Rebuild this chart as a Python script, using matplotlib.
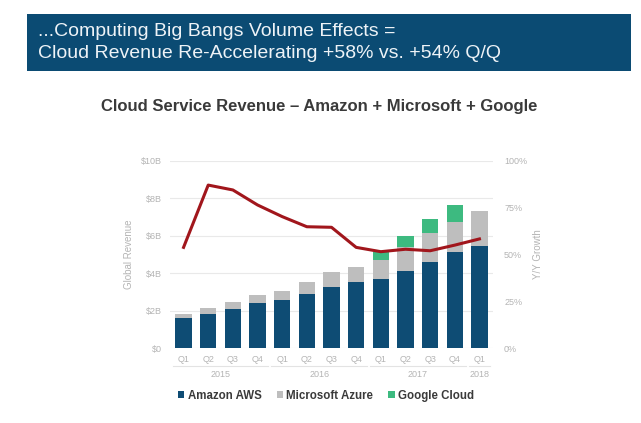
import numpy as np
import matplotlib
matplotlib.use('Agg')
import matplotlib.pyplot as plt
from matplotlib.patches import Rectangle
from matplotlib.transforms import blended_transform_factory

# quarterly revenue in $B
quarters = ['Q1', 'Q2', 'Q3', 'Q4', 'Q1', 'Q2', 'Q3', 'Q4',
            'Q1', 'Q2', 'Q3', 'Q4', 'Q1']
years = ['2015', '2016', '2017', '2018']
year_quarters = [4, 4, 4, 1]

aws = [1.60, 1.85, 2.10, 2.43, 2.57, 2.90, 3.25, 3.55, 3.68, 4.10, 4.60, 5.12, 5.45]
azure = [0.22, 0.30, 0.38, 0.40, 0.50, 0.63, 0.80, 0.80, 1.03, 1.28, 1.53, 1.62, 1.88]
google = [0, 0, 0, 0, 0, 0, 0, 0, 0.44, 0.61, 0.75, 0.89, 0]

# y/y growth of the combined total, %
growth = [53.8, 87.0, 84.4, 76.4, 70.2, 64.8, 64.5, 53.8, 51.5, 52.8, 52.0, 55.0, 58.3]

plt.rcParams['font.family'] = ['Liberation Sans', 'DejaVu Sans']

col_aws = '#0E4C74'
col_azure = '#BEBEBE'
col_google = '#3DBA80'
col_line = '#A1161C'
col_tick = '#B4B4B4'
col_text = '#3A3A3A'

fig = plt.figure(figsize=(6.41, 4.23), dpi=100)

# header banner
fig.patches.append(Rectangle((26.7 / 641, 1 - 70.7 / 423), (631 - 26.7) / 641,
                             (70.7 - 14.3) / 423, transform=fig.transFigure,
                             facecolor='#0B4B73', edgecolor='none'))
fig.text(38 / 641, 1 - 31 / 423, '...Computing Big Bangs Volume Effects =',
         color='#EEF3F7', fontsize=14, va='center', ha='left')
fig.text(38 / 641, 1 - 54 / 423, 'Cloud Revenue Re-Accelerating +58% vs. +54% Q/Q',
         color='#EEF3F7', fontsize=14, va='center', ha='left')

fig.text(319 / 641, 1 - 107 / 423,
         'Cloud Service Revenue \u2013 Amazon + Microsoft + Google',
         color=col_text, fontsize=12, fontweight='bold', ha='center', va='center')

ax = fig.add_axes([170 / 641, 1 - 348.3 / 423, 323 / 641, (348.3 - 160.7) / 423])
x = np.arange(len(quarters))
w = 0.67
aws = np.array(aws)
azure = np.array(azure)
google = np.array(google)

ax.bar(x, aws, w, color=col_aws, label='Amazon AWS', zorder=2)
ax.bar(x, azure, w, bottom=aws, color=col_azure, label='Microsoft Azure', zorder=2)
ax.bar(x, google, w, bottom=aws + azure, color=col_google, label='Google Cloud', zorder=2)

ax.set_xlim(-0.55, 12.55)
ax.set_ylim(0, 10)
ax.set_yticks(np.arange(0, 11, 2))
ax.set_yticklabels(['$0', '$2B', '$4B', '$6B', '$8B', '$10B'])
ax.grid(axis='y', color='#E9E9E9', lw=0.8, zorder=0)
ax.set_xticks(x)
ax.set_xticklabels(quarters)
ax.tick_params(axis='both', length=0, colors=col_tick, labelsize=6.5)
ax.tick_params(axis='y', pad=6)
ax.tick_params(axis='x', pad=5)
for s in ax.spines.values():
    s.set_visible(False)
ax.set_ylabel('Global Revenue', color=col_tick, fontsize=7, labelpad=5)

# year groups under the quarter labels
trans = blended_transform_factory(ax.transData, ax.transAxes)
start = 0
for yr, n in zip(years, year_quarters):
    lo = start - 0.5 + 0.06
    hi = start + n - 0.5 - 0.06
    ax.plot([lo, hi], [-0.097, -0.097], color='#E3E3E3', lw=0.8,
            transform=trans, clip_on=False)
    ax.text((lo + hi) / 2, -0.138, yr, transform=trans, ha='center', va='center',
            color=col_tick, fontsize=6.5)
    start += n

ax2 = ax.twinx()
ax2.plot(x, growth, color=col_line, lw=2.2, zorder=3)
ax2.set_ylim(0, 100)
ax2.set_yticks([0, 25, 50, 75, 100])
ax2.set_yticklabels(['0%', '25%', '50%', '75%', '100%'])
ax2.tick_params(axis='y', length=0, colors=col_tick, labelsize=6.5, pad=8)
for s in ax2.spines.values():
    s.set_visible(False)
ax2.set_ylabel('Y/Y Growth', color=col_tick, fontsize=7, labelpad=4)

handles, labels = ax.get_legend_handles_labels()
leg = fig.legend(handles, labels, loc='center', bbox_to_anchor=(326 / 641, 1 - 396 / 423),
                 ncol=3, frameon=False, fontsize=8.3, handlelength=0.55,
                 handleheight=0.55, handletextpad=0.3, columnspacing=1.3)
for t in leg.get_texts():
    t.set_fontweight('bold')
    t.set_color(col_text)

fig.savefig('out.png', dpi=100, facecolor='white')
